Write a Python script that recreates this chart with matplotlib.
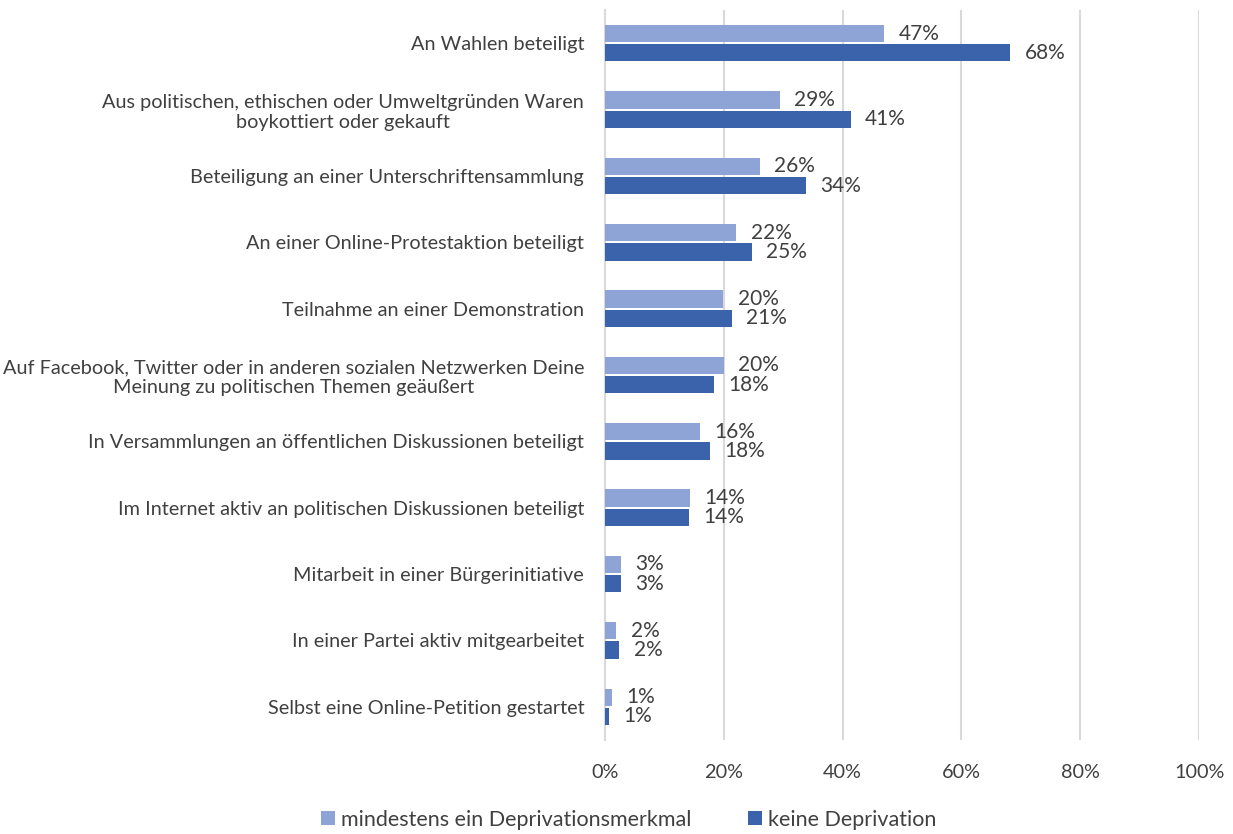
import matplotlib
matplotlib.use("Agg")
import matplotlib.pyplot as plt
import numpy as np

# --- Data ---
categories = [
    "An Wahlen beteiligt",
    "Aus politischen, ethischen oder Umweltgründen Waren\nboykottiert oder gekauft",
    "Beteiligung an einer Unterschriftensammlung",
    "An einer Online-Protestaktion beteiligt",
    "Teilnahme an einer Demonstration",
    "Auf Facebook, Twitter oder in anderen sozialen Netzwerken Deine\nMeinung zu politischen Themen geäußert",
    "In Versammlungen an öffentlichen Diskussionen beteiligt",
    "Im Internet aktiv an politischen Diskussionen beteiligt",
    "Mitarbeit in einer Bürgerinitiative",
    "In einer Partei aktiv mitgearbeitet",
    "Selbst eine Online-Petition gestartet",
]
depriv = [47.0, 29.4, 26.1, 22.1, 19.9, 20.0, 16.0, 14.3, 2.7, 1.9, 1.2]
keine = [68.2, 41.4, 33.8, 24.7, 21.4, 18.4, 17.7, 14.1, 2.7, 2.4, 0.7]
series_names = ["mindestens ein Deprivationsmerkmal", "keine Deprivation"]

light = "#8FA4D6"
dark = "#3A63AB"
txt = "#404040"

plt.rcParams['font.family'] = ['Lato', 'DejaVu Sans']

fig = plt.figure(figsize=(12.33, 8.34), dpi=100)
ax = fig.add_axes([0.4907, 0.1127, 0.4818, 0.8753])

y = np.arange(len(categories))
h = 0.26
ax.barh(y - 0.145, depriv, height=h, color=light, label=series_names[0], zorder=3)
ax.barh(y + 0.145, keine, height=h, color=dark, label=series_names[1], zorder=3)

for yi, v in zip(y, depriv):
    ax.text(v + 2.4, yi - 0.145, f"{round(v):.0f}%", va='center', ha='left', fontsize=15, color=txt)
for yi, v in zip(y, keine):
    ax.text(v + 2.4, yi + 0.145, f"{round(v):.0f}%", va='center', ha='left', fontsize=15, color=txt)

ax.set_xlim(0, 100)
ax.set_ylim(len(categories) - 0.5, -0.5)
ax.set_xticks(np.arange(0, 101, 20))
ax.set_xticklabels([f"{t}%" for t in range(0, 101, 20)])
ax.set_yticks(y)
ax.set_yticklabels(categories)
for lbl in ax.get_yticklabels():
    lbl.set_multialignment('center')

ax.tick_params(axis='y', length=0, pad=15, labelsize=14.3, labelcolor=txt)
ax.tick_params(axis='x', length=0, pad=17, labelsize=14.3, labelcolor=txt)
ax.grid(axis='x', color='#d9d9d9', linewidth=1.5, zorder=0)
for s in ['top', 'right', 'bottom']:
    ax.spines[s].set_visible(False)
ax.spines['left'].set_color('#d9d9d9')
ax.spines['left'].set_linewidth(1.5)

fig.legend(loc='lower center', bbox_to_anchor=(0.51, -0.018), ncol=2, frameon=False,
           fontsize=15.5, labelcolor=txt, handlelength=0.65, handleheight=0.65,
           handletextpad=0.3, columnspacing=2.6)

fig.savefig("out.png", dpi=100)
